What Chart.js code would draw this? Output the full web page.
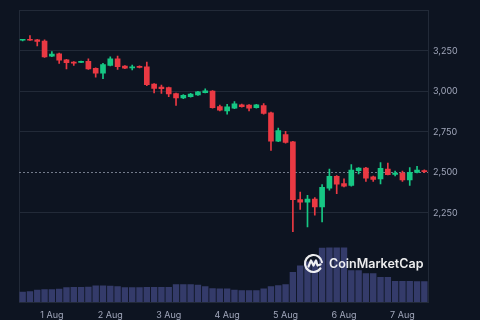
<!DOCTYPE html>
<html>
<head>
<meta charset="utf-8">
<script src="https://cdn.jsdelivr.net/npm/chart.js@4"></script>
<style>
html,body{margin:0;padding:0;background:#0d1421;}
#wrap{width:480px;height:320px;position:relative;}
</style>
</head>
<body>
<div id="wrap"><canvas id="c" width="480" height="320"></canvas></div>
<script>
// 3h candles, 31 Jul 12:00 -> 7 Aug 09:00
const dayNames=['31 Jul','1 Aug','2 Aug','3 Aug','4 Aug','5 Aug','6 Aug','7 Aug'];
const hours=['00:00','03:00','06:00','09:00','12:00','15:00','18:00','21:00'];
const categories=dayNames.flatMap(d=>hours.map(h=>d+' '+h)).slice(4,60);

const opens =[3316,3319,3318,3310,3218,3232,3195,3181,3179,3185,3143,3112,3161,3201,3157,3145,3155,3152,3045,3027,3023,2986,2960,2968,2978,2992,3002,2906,2880,2896,2917,2915,2900,2913,2868,2693,2734,2689,2332,2316,2336,2287,2402,2475,2431,2419,2510,2527,2472,2459,2521,2488,2496,2453,2500,2512];
const highs =[3322,3344,3322,3318,3246,3236,3198,3184,3187,3201,3146,3173,3213,3218,3160,3163,3158,3181,3048,3039,3026,2990,2980,2988,3001,3016,3005,2915,2920,2937,2922,2918,2920,2925,2872,2774,2754,2692,2378,2358,2345,2425,2520,2480,2460,2549,2530,2532,2478,2561,2557,2508,2508,2530,2537,2516];
const lows  =[3312,3314,3280,3210,3214,3173,3138,3161,3177,3136,3088,3079,3158,3136,3140,3132,3145,3035,2990,2988,2968,2913,2955,2964,2975,2990,2897,2880,2860,2893,2903,2880,2897,2860,2636,2690,2680,2134,2272,2164,2236,2195,2390,2368,2410,2415,2490,2445,2445,2429,2484,2478,2445,2420,2497,2498];
const closes=[3319,3316,3309,3213,3230,3193,3177,3175,3185,3138,3112,3165,3201,3152,3143,3152,3148,3041,3018,3017,2984,2960,2976,2984,2998,3004,2900,2884,2904,2923,2906,2896,2917,2864,2693,2758,2685,2332,2316,2336,2287,2408,2475,2427,2415,2514,2527,2464,2457,2525,2486,2496,2453,2500,2514,2504];
const volumes=[8.2,8.8,10.0,10.4,10.4,10.8,12.0,12.2,12.2,12.4,13.4,13.4,13.2,12.8,12.0,12.0,12.0,12.2,12.2,12.2,12.2,14.4,14.4,14.4,14.0,12.8,11.2,11.0,11.0,10.0,9.6,9.6,9.6,11.0,12.8,13.6,14.4,24.2,29.6,32.8,33.6,44.0,44.2,44.2,44.2,25.6,25.6,23.2,23.2,20.2,20.2,17.0,17.0,17.0,16.8,16.8];
const yTicks=[2250,2500,2750,3000,3250];

const UP='#16c784',DOWN='#ea3943',GRID='#222a38',TXT='#a1a7bb';
const candleColors=opens.map((o,i)=>closes[i]>=o?UP:DOWN);
const lastPrice=closes[closes.length-1];

const framePlugin={
  id:'frame',
  beforeDatasetsDraw(chart){
    const {ctx,chartArea:a,scales}=chart;
    ctx.save();
    ctx.strokeStyle=GRID;ctx.lineWidth=1;
    ctx.strokeRect(Math.round(a.left)+0.5,Math.round(a.top)+0.5,Math.round(a.right-a.left),Math.round(a.bottom-a.top));
    const y=Math.round(scales.y.getPixelForValue(lastPrice))+0.5;
    ctx.strokeStyle='rgba(160,166,185,0.7)';ctx.setLineDash([2,2]);
    ctx.beginPath();ctx.moveTo(a.left,y);ctx.lineTo(a.right,y);ctx.stroke();
    ctx.restore();
  },
  afterDatasetsDraw(chart){
    const {ctx}=chart;
    ctx.save();
    const cx=313.5,cy=263.5,r=8.5;
    ctx.strokeStyle='rgba(255,255,255,0.92)';ctx.lineWidth=2.2;ctx.lineCap='round';ctx.lineJoin='round';
    ctx.beginPath();ctx.arc(cx,cy,r,Math.PI*0.2,Math.PI*1.95,false);ctx.stroke();
    ctx.beginPath();
    ctx.moveTo(cx-5,cy+3);ctx.lineTo(cx-2.5,cy-3);ctx.lineTo(cx,cy+2);ctx.lineTo(cx+2.5,cy-3);ctx.lineTo(cx+4,cy+2);ctx.lineTo(cx+7,cy+1);
    ctx.stroke();
    ctx.fillStyle='rgba(255,255,255,0.92)';
    ctx.font='600 12.5px Inter';ctx.textBaseline='middle';ctx.textAlign='left';
    ctx.fillText('CoinMarketCap',329,264);
    ctx.restore();
  }
};

new Chart(document.getElementById('c'),{
  type:'bar',
  data:{labels:categories,datasets:[
    {label:'body',data:opens.map((o,i)=>[o,closes[i]]),backgroundColor:candleColors,barThickness:5,minBarLength:1,grouped:false,order:1,yAxisID:'y'},
    {label:'wick',data:lows.map((l,i)=>[l,highs[i]]),backgroundColor:candleColors,barThickness:1,grouped:false,order:2,yAxisID:'y'},
    {label:'volume',data:volumes,backgroundColor:'#343b6a',barPercentage:0.88,categoryPercentage:1,grouped:false,order:3,yAxisID:'v'}
  ]},
  options:{
    responsive:false,animation:false,
    layout:{padding:{left:19,top:7,right:0,bottom:0}},
    plugins:{legend:{display:false},tooltip:{enabled:false}},
    scales:{
      x:{grid:{display:false,drawTicks:false},border:{display:false},
        ticks:{color:TXT,font:{family:'Inter',size:9},autoSkip:false,maxRotation:0,padding:8,
          callback:(v,i)=>categories[i].endsWith('00:00')?categories[i].slice(0,-6):''},
        afterFit:s=>{s.height=18;}},
      y:{position:'right',min:1700,max:3500,
        afterBuildTicks:s=>{s.ticks=yTicks.map(v=>({value:v}));},
        grid:{color:c=>c.tick&&c.tick.value===2500?'transparent':GRID,drawTicks:false},border:{display:false},
        ticks:{color:TXT,font:{family:'Inter',size:9},padding:5,callback:v=>v.toLocaleString('en-US')},
        afterFit:s=>{s.width=52;}},
      v:{display:false,min:0,max:236}
    }
  },
  plugins:[framePlugin]
});
</script>
</body>
</html>
